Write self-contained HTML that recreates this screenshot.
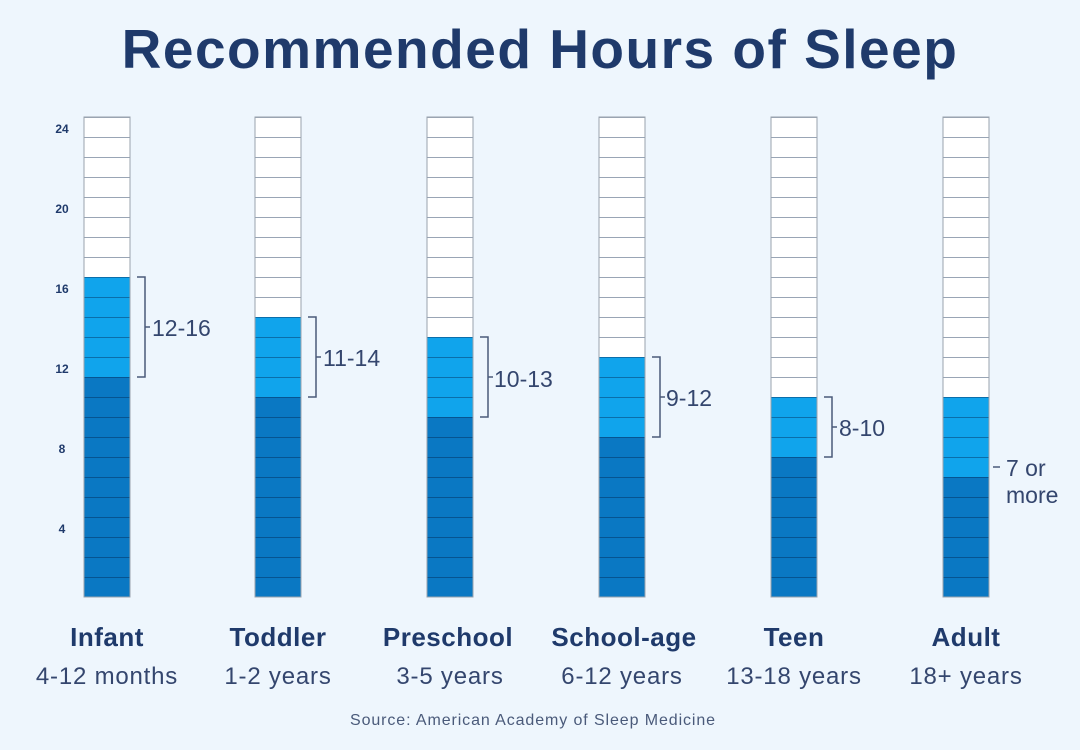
<!DOCTYPE html>
<html><head><style>
html,body{margin:0;padding:0;background:#eef6fd;}
svg{display:block;font-family:"Liberation Sans",sans-serif;}
</style></head><body>
<svg width="1080" height="750" viewBox="0 0 1080 750">
<defs>
<pattern id="grid" x="0" y="117" width="46" height="20" patternUnits="userSpaceOnUse">
<line x1="0" y1="0" x2="46" y2="0" stroke="rgba(0,30,70,0.4)" stroke-width="2"/>
</pattern>
</defs>
<rect width="1080" height="750" fill="#eef6fd"/>
<text x="540" y="68" text-anchor="middle" font-size="55" font-weight="bold" letter-spacing="1.5" fill="#1f3a6b">Recommended Hours of Sleep</text>
<g font-size="12" font-weight="bold" fill="#1f3a6b" text-anchor="middle">
<text x="62" y="133">24</text><text x="62" y="213">20</text><text x="62" y="293">16</text>
<text x="62" y="373">12</text><text x="62" y="453">8</text><text x="62" y="533">4</text>
</g>
<!-- bars: white top, light mid, dark bottom -->
<g>
<rect x="84" y="117" width="46" height="160" fill="#fff"/><rect x="84" y="277" width="46" height="100" fill="#10a4ec"/><rect x="84" y="377" width="46" height="220" fill="#0a78c3"/>
<rect x="255" y="117" width="46" height="200" fill="#fff"/><rect x="255" y="317" width="46" height="80" fill="#10a4ec"/><rect x="255" y="397" width="46" height="200" fill="#0a78c3"/>
<rect x="427" y="117" width="46" height="220" fill="#fff"/><rect x="427" y="337" width="46" height="80" fill="#10a4ec"/><rect x="427" y="417" width="46" height="180" fill="#0a78c3"/>
<rect x="599" y="117" width="46" height="240" fill="#fff"/><rect x="599" y="357" width="46" height="80" fill="#10a4ec"/><rect x="599" y="437" width="46" height="160" fill="#0a78c3"/>
<rect x="771" y="117" width="46" height="280" fill="#fff"/><rect x="771" y="397" width="46" height="60" fill="#10a4ec"/><rect x="771" y="457" width="46" height="140" fill="#0a78c3"/>
<rect x="943" y="117" width="46" height="280" fill="#fff"/><rect x="943" y="397" width="46" height="80" fill="#10a4ec"/><rect x="943" y="477" width="46" height="120" fill="#0a78c3"/>
</g>
<g fill="url(#grid)" stroke="#9aa3ad" stroke-width="1">
<rect x="84" y="117" width="46" height="480"/>
<rect x="255" y="117" width="46" height="480"/>
<rect x="427" y="117" width="46" height="480"/>
<rect x="599" y="117" width="46" height="480"/>
<rect x="771" y="117" width="46" height="480"/>
<rect x="943" y="117" width="46" height="480"/>
</g>
<g stroke="#4a5a7a" stroke-width="1.5" fill="none">
<path d="M137 277H145V377H137M145 327H150"/>
<path d="M308 317H316V397H308M316 357H321"/>
<path d="M480 337H488V417H480M488 377H493"/>
<path d="M652 357H660V437H652M660 397H665"/>
<path d="M824 397H832V457H824M832 427H837"/>
<path d="M993 467H1000"/>
</g>
<g font-size="23" fill="#34466e">
<text x="152" y="336">12-16</text>
<text x="323" y="366">11-14</text>
<text x="494" y="387">10-13</text>
<text x="666" y="406">9-12</text>
<text x="839" y="436">8-10</text>
<text x="1006" y="476">7 or</text>
<text x="1006" y="503">more</text>
</g>
<g text-anchor="middle" fill="#1f3a6b">
<g font-size="26" font-weight="bold" letter-spacing="0.5">
<text x="107" y="646">Infant</text><text x="278" y="646">Toddler</text><text x="448" y="646">Preschool</text>
<text x="624" y="646">School-age</text><text x="794" y="646">Teen</text><text x="966" y="646">Adult</text>
</g>
<g font-size="24" fill="#34466e" letter-spacing="0.8">
<text x="107" y="684">4-12 months</text><text x="278" y="684">1-2 years</text><text x="450" y="684">3-5 years</text>
<text x="622" y="684">6-12 years</text><text x="794" y="684">13-18 years</text><text x="966" y="684">18+ years</text>
</g>
<text x="533" y="725" font-size="16" fill="#4a5a7a" letter-spacing="0.9">Source: American Academy of Sleep Medicine</text>
</g>
</svg>
</body></html>
